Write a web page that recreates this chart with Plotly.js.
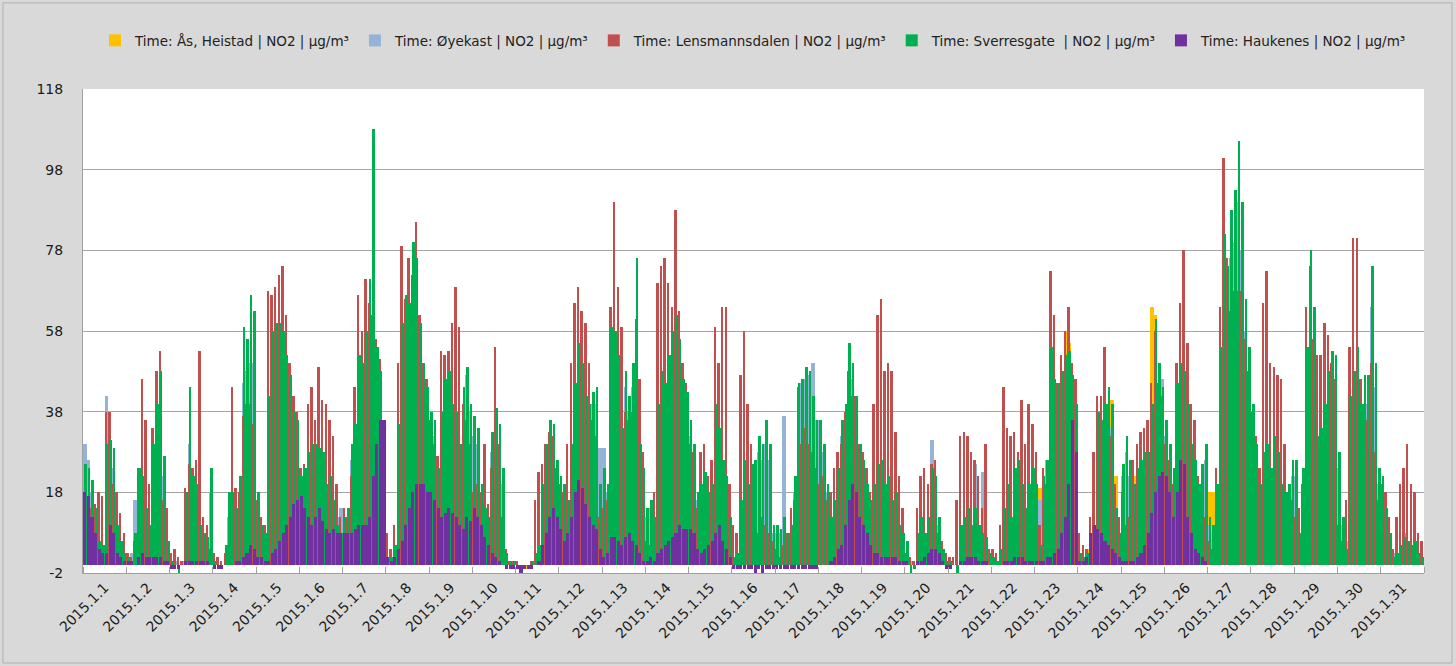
<!DOCTYPE html>
<html><head><meta charset="utf-8">
<script src="https://cdn.plot.ly/plotly-3.0.1.min.js"></script>
<style>html,body{margin:0;padding:0;background:#d9d9d9;}#chart{width:1456px;height:666px;}</style>
</head><body><div id="chart"></div>
<script>
// Two-hour samples (12 per day, 31 days), NO2 in µg/m³
const dayLabels = ["2015.1.1","2015.1.2","2015.1.3","2015.1.4","2015.1.5","2015.1.6","2015.1.7","2015.1.8","2015.1.9","2015.1.10","2015.1.11","2015.1.12","2015.1.13","2015.1.14","2015.1.15","2015.1.16","2015.1.17","2015.1.18","2015.1.19","2015.1.20","2015.1.21","2015.1.22","2015.1.23","2015.1.24","2015.1.25","2015.1.26","2015.1.27","2015.1.28","2015.1.29","2015.1.30","2015.1.31"];
const seriesNames = ["Time: Ås, Heistad | NO2 | µg/m³","Time: Øyekast | NO2 | µg/m³","Time: Lensmannsdalen | NO2 | µg/m³","Time: Sverresgate  | NO2 | µg/m³","Time: Haukenes | NO2 | µg/m³"];
const yTickVals = [-2, 18, 38, 58, 78, 98, 118];
const yTickText = ["-2", "18", "38", "58", "78", "98", "118"];

const asHeistad = [
12,10,8,6,3,3,14,16,14,6,4,2, 1,1,4,10,12,8,6,14,20,22,12,3, 0,0,-1,0,8,18,10,10,6,4,4,10, 0,0,0,2,8,8,6,10,26,26,30,28,
8,5,4,20,28,30,30,28,26,22,18,16, 10,12,14,14,14,14,14,10,10,8,6,5, 6,7,14,16,24,24,28,32,40,30,26,8, 1,1,3,16,30,32,32,38,36,30,24,20,
18,16,12,18,22,22,20,18,14,20,22,18, 16,14,10,7,6,14,18,16,10,1,0,0, -1,-1,-1,-1,0,1,2,10,14,16,16,12, 10,9,8,14,22,26,24,20,18,20,20,10,
12,10,28,28,24,16,22,20,24,34,14,10, 6,8,6,18,22,22,24,28,30,26,22,20, 16,14,8,10,10,8,10,18,16,12,10,6, -1,-1,6,12,10,12,12,14,14,16,14,5,
5,4,6,4,5,10,20,22,22,22,20,16, 16,14,10,6,8,12,16,18,26,24,20,14, 12,10,8,10,12,12,10,10,8,8,5,4, 2,1,0,4,6,4,6,10,10,6,2,0,
0,0,0,5,6,6,5,6,5,4,3,1, 1,1,4,7,10,6,12,12,10,7,10,12, 10,19,17,13,26,22,22,24,58,55,24,20, 2,1,4,3,5,18,18,20,22,41,22,4,
12,16,13,22,12,14,14,26,64,62,26,22, 18,14,12,22,24,24,20,14,12,10,20,14, 18,18,14,26,40,36,42,44,50,44,32,26, 20,14,10,14,14,12,16,14,10,8,10,12,
12,4,12,26,38,30,16,16,20,24,26,26, 14,6,6,20,24,26,20,22,22,20,24,12, 10,6,4,2,2,2,4,3,2,3,2,1];

const oyekast = [
30,26,18,12,5,5,42,28,24,8,5,3, 2,3,16,18,20,12,8,28,36,40,22,5, 1,1,0,1,12,30,18,16,8,6,5,18, 0,0,0,3,12,14,10,18,45,48,50,50,
16,8,6,36,50,52,54,50,46,42,34,30, 20,22,26,28,28,26,25,18,20,14,12,14, 12,12,26,30,46,46,50,60,58,50,44,10, 2,2,4,30,55,58,60,70,61,55,46,40,
34,32,22,34,42,44,36,34,28,40,47,38, 32,30,18,12,10,28,36,30,20,2,1,1, 0,0,0,0,1,2,4,16,26,32,32,22, 20,18,14,26,40,50,46,38,36,40,40,29,
29,18,50,52,46,30,44,38,44,60,26,20, 12,14,10,34,42,40,46,50,54,48,40,38, 32,26,16,18,20,16,18,34,30,22,18,10, 2,2,14,22,18,22,22,28,26,30,26,8,
8,8,37,6,8,18,44,45,46,47,50,36, 36,28,18,10,14,22,32,36,48,46,38,28, 22,18,14,18,22,22,18,20,14,16,8,6, 2,1,0,6,10,8,10,31,20,10,3,1,
1,0,0,8,10,12,8,25,8,23,6,2, 2,1,3,12,16,10,20,22,18,12,16,20, 18,16,20,26,46,40,40,42,46,48,40,34, 3,2,3,5,8,32,30,34,38,34,12,6,
22,28,22,18,20,22,24,24,36,55,44,46, 32,26,20,40,44,42,34,26,22,18,22,26, 10,8,18,46,70,64,76,80,90,78,58,48, 36,26,18,24,26,20,28,24,18,16,18,22,
22,6,20,46,68,56,28,30,36,42,48,46, 24,10,4,36,42,46,34,40,40,64,44,20, 18,12,6,3,3,4,8,5,4,5,3,2];

const lensmannsdalen = [
15,13,14,15,18,17,38,38,20,18,13,8, 3,2,6,24,46,36,20,34,48,53,16,14, 3,4,2,1,19,25,24,26,53,12,10,4, 3,2,1,3,5,44,19,18,37,40,40,35,
16,12,10,68,67,69,72,74,62,50,42,38, 24,25,40,44,36,49,41,40,36,32,20,12, 14,12,22,44,67,58,71,65,62,56,51,15, 8,4,10,50,79,66,76,72,85,62,50,46,
36,30,27,53,52,53,60,69,59,40,36,30, 18,20,18,30,15,24,54,30,12,4,1,1, 1,0,0,0,1,16,23,25,30,33,32,24, 20,18,30,50,65,69,63,60,50,36,32,12,
14,16,64,90,69,59,38,36,38,61,46,28, 6,5,18,70,74,76,70,64,88,63,50,45, 30,28,14,28,30,22,26,59,50,64,64,20, 10,8,47,58,40,30,10,8,12,10,8,6,
4,2,5,8,14,16,44,30,34,30,28,24, 20,22,16,18,24,28,30,38,48,42,42,30, 28,24,18,40,62,66,48,50,48,33,22,14, 3,2,1,14,22,24,20,25,26,8,6,3,
2,2,16,32,33,32,28,26,22,14,30,4, 4,3,10,44,34,32,33,28,41,30,40,35, 28,10,24,20,73,62,45,52,58,64,50,46, 8,5,4,12,28,42,42,54,40,32,20,12,
18,10,12,26,30,33,34,36,45,58,45,42, 30,26,20,50,65,78,55,40,36,22,14,12, 6,4,24,64,101,76,63,68,68,68,56,48, 38,32,24,65,73,50,49,47,46,30,18,16,
12,14,20,64,74,56,52,52,60,57,50,46, 10,6,16,54,81,81,46,40,36,50,28,16, 20,18,12,4,12,20,24,30,20,18,8,6];

const sverresgate = [
25,24,21,14,6,5,30,31,29,10,6,3, 2,1,8,24,22,14,10,30,40,48,27,6, 1,0,-2,0,18,44,22,20,10,8,7,24, 1,0,0,5,18,18,14,22,59,56,67,63,
18,10,8,42,58,60,60,58,52,47,38,36, 22,24,28,30,30,29,28,20,22,16,10,8, 12,14,30,35,52,50,58,71,108,54,48,10, 2,2,5,35,60,67,65,80,76,60,50,44,
38,36,24,38,46,48,40,38,30,44,49,40, 37,34,20,14,12,33,39,35,24,3,1,1, 0,0,0,0,1,3,5,20,30,36,35,26, 22,20,16,30,45,55,50,42,40,43,44,20,
24,20,59,58,52,34,48,42,50,76,30,24, 14,16,12,40,48,45,52,58,62,56,46,43, 36,30,18,20,23,18,20,40,34,26,22,12, 2,3,16,26,20,25,26,32,30,36,30,10,
10,9,12,8,10,22,45,46,49,48,42,36, 36,30,20,12,16,24,36,40,55,50,42,30, 26,20,16,20,25,26,20,22,16,18,10,8, 6,-2,-1,8,12,8,12,24,22,12,4,1,
1,0,-2,10,12,14,10,14,10,8,7,3, 2,1,4,14,20,12,24,26,20,14,20,24, 20,5,22,26,54,46,45,48,52,53,47,40, 3,2,3,6,10,38,36,40,44,40,14,8,
25,32,26,20,24,26,28,28,40,61,50,44, 36,30,24,45,50,48,40,30,26,20,25,30, 12,10,20,54,82,74,88,93,105,90,66,54, 40,30,20,28,30,24,32,28,20,18,20,26,
26,8,24,54,78,64,32,34,40,48,53,52, 28,12,4,42,48,54,40,47,47,74,50,24, 22,14,8,2,3,5,7,6,5,6,3,2];

const haukenes = [
18,17,12,8,4,3,3,10,8,3,2,1, 1,1,0,2,3,2,2,2,2,2,1,1, -1,-1,-1,0,1,1,1,1,1,1,1,0, -1,-1,-1,0,0,0,1,1,2,3,5,4,
2,2,1,1,3,4,6,8,10,12,15,16, 17,14,12,10,12,14,11,9,8,9,8,8, 8,8,8,9,10,10,10,12,22,30,36,36, 2,1,2,4,6,10,14,18,20,20,20,18,
18,16,14,12,13,14,13,12,10,9,12,11, 14,12,10,7,5,3,2,1,0,-1,-1,-1, -1,-2,-1,-1,-1,0,1,5,8,12,14,12, 9,6,8,12,18,21,19,15,12,10,9,4,
2,3,7,7,6,5,7,8,6,5,3,1, 1,2,1,3,4,5,6,7,8,10,9,9, 9,8,4,3,4,5,6,8,10,6,4,2, -1,-1,-1,-1,-1,-1,-2,-1,-2,-1,-1,-1,
-1,-1,-1,-1,-1,-1,-1,-1,-1,-1,-1,-1, 0,0,0,1,2,4,5,10,16,20,18,12, 10,8,5,3,3,2,2,2,2,2,1,1, 1,0,0,1,1,2,3,4,4,3,1,-1,
-1,0,0,1,1,2,2,2,1,1,1,0, 0,0,0,1,1,1,2,2,2,1,1,1, 1,1,1,2,2,3,4,8,12,20,36,28, 1,1,2,8,10,9,8,6,5,4,3,2,
1,1,1,1,2,3,5,8,13,18,22,23, 22,18,12,18,26,25,12,8,4,3,2,1, 0,0,0,0,0,0,0,0,0,0,0,0, 0,0,0,0,0,0,0,0,0,0,0,0,
0,0,0,0,0,0,0,0,0,0,0,0, 0,0,0,0,0,0,0,0,0,0,0,0, 0,0,0,0,0,0,0,0,0,0,0,0];

const colors = ["#FFC000","#95B3D7","#C0504D","#00B050","#7030A0"];
const allSeries = [asHeistad, oyekast, lensmannsdalen, sverresgate, haukenes];
const widths = [2, 2, 1.35, 1.45, 1.7];
const offsets = [-1, -1, -1, -0.45, -0.85];

const traces = allSeries.map((vals, k) => ({
  type: 'bar',
  name: seriesNames[k],
  x: vals.map((_, i) => 2 * i + 1),
  y: vals,
  marker: {color: colors[k], line: {width: 0}},
  width: widths[k],
  offset: offsets[k],
  hoverinfo: 'x+y+name'
}));

const fnt = "DejaVu Sans, Open Sans, Arial, sans-serif";
const layout = {
  width: 1456, height: 666,
  paper_bgcolor: '#d9d9d9', plot_bgcolor: '#ffffff',
  margin: {l: 83, r: 32, t: 89, b: 93},
  barmode: 'overlay', bargap: 0,
  showlegend: true,
  legend: {orientation: 'h', x: 0.5, xanchor: 'center', y: 1.1, yanchor: 'middle',
    font: {family: fnt, size: 13.5, color: '#222'}, bgcolor: 'rgba(0,0,0,0)', itemwidth: 30, tracegroupgap: 0},
  xaxis: {
    range: [0, 744], showgrid: false, zeroline: false,
    tickmode: 'array', tickvals: dayLabels.map((_, d) => 24 * d + 12), ticktext: dayLabels,
    tickangle: -45, ticks: '', tickfont: {family: fnt, size: 14, color: '#1a1a1a'},
    showline: true, linecolor: '#a0a0a0', linewidth: 1,
    minor: {tick0: 0, dtick: 24, ticks: 'inside', ticklen: 6, tickcolor: '#a0a0a0', tickwidth: 1, showgrid: false}
  },
  yaxis: {
    range: [-2, 118], tickmode: 'array', tickvals: yTickVals, ticktext: yTickText,
    showgrid: true, gridcolor: '#a6a6a6', gridwidth: 1, zeroline: false,
    showline: true, linecolor: '#a0a0a0', linewidth: 1, ticks: '',
    ticklabelstandoff: 16,
    tickfont: {family: fnt, size: 14, color: '#1a1a1a'}
  },
  shapes: [{type: 'rect', xref: 'paper', yref: 'paper', x0: -0.0597, x1: 1.0209, y0: -0.186, y1: 1.178,
    line: {color: '#b0b0b0', width: 1}, fillcolor: 'rgba(0,0,0,0)', layer: 'below'}]
};

Plotly.newPlot('chart', traces, layout, {displayModeBar: false, staticPlot: true});
</script>
</body></html>
